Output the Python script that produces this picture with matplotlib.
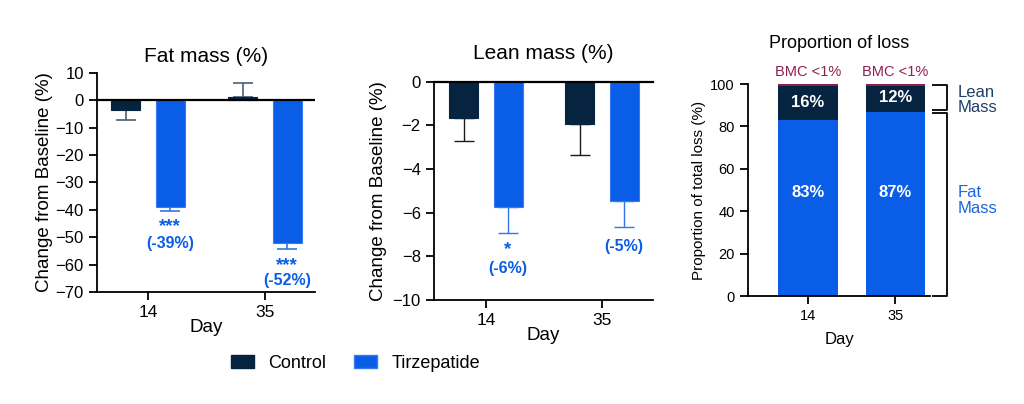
import matplotlib
matplotlib.use("Agg")
import matplotlib.pyplot as plt
from matplotlib.patches import Patch
import numpy as np

plt.rcParams['font.family'] = ['Liberation Sans', 'DejaVu Sans']

days = ["14", "35"]
groups = ["Control", "Tirzepatide"]

fat_control = [-3.7, 1.3]
fat_control_err = [3.4, 4.9]
fat_tirz = [-39.1, -52.0]
fat_tirz_err = [1.3, 2.4]

lean_control = [-1.68, -1.94]
lean_control_err = [1.04, 1.42]
lean_tirz = [-5.76, -5.47]
lean_tirz_err = [1.16, 1.19]

prop_fat = [83, 87]
prop_lean = [16, 12]
prop_bmc = [1, 1]

fat_stars = ["***", "***"]
fat_labels = ["(-39%)", "(-52%)"]
lean_stars = ["*", ""]
lean_labels = ["(-6%)", "(-5%)"]

NAVY = "#06233f"
BLUE = "#0a5de6"
NAVY_ERR = "#4a6075"
BLUE_ERR = "#3374e6"
BLUE_EDGE = "#3a7af0"
MAROON = "#8e1f4f"

W, H = 1024, 404
fig = plt.figure(figsize=(W / 100, H / 100), dpi=100)

def px_axes(l, r, t, b):
    return fig.add_axes([l / W, (H - b) / H, (r - l) / W, (b - t) / H])

x = np.arange(len(days))
off = 0.19
bw = 0.25
LW = 1.3

def style(ax, tsize):
    for s in ["top", "right"]:
        ax.spines[s].set_visible(False)
    for s in ["left", "bottom"]:
        ax.spines[s].set_linewidth(LW)
    ax.tick_params(width=LW, length=6, labelsize=tsize, direction="out")

# ---------- Panel 1: Fat mass ----------
ax1 = px_axes(97, 315, 72.7, 292)
ax1.bar(x - off, fat_control, bw, color=NAVY, edgecolor=NAVY, linewidth=0.8, zorder=2)
ax1.bar(x + off, fat_tirz, bw, color=BLUE, edgecolor=BLUE_EDGE, linewidth=0.8, zorder=2)
for i in range(len(days)):
    c = fat_control[i]
    ax1.errorbar(x[i] - off, c, yerr=[[fat_control_err[i] if c < 0 else 0], [fat_control_err[i] if c >= 0 else 0]],
                 fmt="none", ecolor=NAVY_ERR, elinewidth=1.2, capsize=7, capthick=1.2, zorder=1)
    ax1.errorbar(x[i] + off, fat_tirz[i], yerr=[[fat_tirz_err[i]], [0]],
                 fmt="none", ecolor=BLUE_ERR, elinewidth=1.2, capsize=7, capthick=1.2, zorder=1)
ax1.axhline(0, color="black", lw=1.6, zorder=3)
ax1.set_ylim(-70, 10)
ax1.set_yticks(np.arange(-70, 11, 10))
ax1.set_xlim(-0.436, 1.427)
ax1.set_xticks(x)
ax1.set_xticklabels(days)
style(ax1, 12)
ax1.tick_params(axis="x", labelsize=12.5)
ax1.set_ylabel("Change from Baseline (%)", fontsize=13.5, labelpad=2)
ax1.set_xlabel("Day", fontsize=13.5, labelpad=-1)
ax1.set_title("Fat mass (%)", fontsize=15, pad=8)
fat_star_y = [-46.0, -60.4]
fat_lab_y = [-52.4, -65.9]
for i in range(len(days)):
    ax1.text(x[i] + off, fat_star_y[i], fat_stars[i], color=BLUE, fontsize=13.5, fontweight="bold",
             ha="center", va="center")
    ax1.text(x[i] + off, fat_lab_y[i], fat_labels[i], color=BLUE, fontsize=11.5, fontweight="bold",
             ha="center", va="center")

# ---------- Panel 2: Lean mass ----------
ax2 = px_axes(434, 653, 81.7, 300)
ax2.bar(x - off, lean_control, bw, color=NAVY, edgecolor=NAVY, linewidth=0.8, zorder=2)
ax2.bar(x + off, lean_tirz, bw, color=BLUE, edgecolor=BLUE_EDGE, linewidth=0.8, zorder=2)
for i in range(len(days)):
    ax2.errorbar(x[i] - off, lean_control[i], yerr=[[lean_control_err[i]], [0]],
                 fmt="none", ecolor="#1a1a1a", elinewidth=1.0, capsize=7, capthick=1.0, zorder=1)
    ax2.errorbar(x[i] + off, lean_tirz[i], yerr=[[lean_tirz_err[i]], [0]],
                 fmt="none", ecolor=BLUE_ERR, elinewidth=1.0, capsize=7, capthick=1.0, zorder=1)
ax2.axhline(0, color="black", lw=1.6, zorder=3, clip_on=False)
ax2.set_ylim(-10, 0)
ax2.set_yticks(np.arange(-10, 1, 2))
ax2.set_xlim(-0.448, 1.44)
ax2.set_xticks(x)
ax2.set_xticklabels(days)
style(ax2, 12)
ax2.tick_params(axis="x", labelsize=12.5)
ax2.set_ylabel("Change from Baseline (%)", fontsize=13.5, labelpad=4)
ax2.set_xlabel("Day", fontsize=13.5, labelpad=-1)
ax2.set_title("Lean mass (%)", fontsize=15, pad=16)
lean_star_y = [-7.7, -7.56]
lean_lab_y = [-8.56, -7.56]
for i in range(len(days)):
    if lean_stars[i]:
        ax2.text(x[i] + off, lean_star_y[i], lean_stars[i], color=BLUE, fontsize=13.5, fontweight="bold",
                 ha="center", va="center")
    ax2.text(x[i] + off, lean_lab_y[i], lean_labels[i], color=BLUE, fontsize=11.5, fontweight="bold",
             ha="center", va="center")

# ---------- Panel 3: Proportion of loss ----------
ax3 = px_axes(748, 930, 84, 296)
bw3 = 0.68
ax3.bar(x, prop_fat, bw3, color=BLUE, linewidth=0, zorder=2)
ax3.bar(x, prop_lean, bw3, bottom=prop_fat, color=NAVY, linewidth=0, zorder=2)
bot2 = [a + b for a, b in zip(prop_fat, prop_lean)]
ax3.bar(x, prop_bmc, bw3, bottom=bot2, color=MAROON, linewidth=0, zorder=2)
ax3.set_ylim(0, 100)
ax3.set_yticks(np.arange(0, 101, 20))
ax3.set_xlim(-0.69, 1.40)
ax3.set_xticks(x)
ax3.set_xticklabels(days)
style(ax3, 10.5)
ax3.set_ylabel("Proportion of total loss (%)", fontsize=11, labelpad=3)
ax3.set_xlabel("Day", fontsize=12, labelpad=6)
ax3.set_title("Proportion of loss", fontsize=13, pad=26)
for i in range(len(days)):
    ax3.text(x[i], 49, f"{prop_fat[i]}%", color="white", fontsize=12,
             fontweight="bold", ha="center", va="center")
    ax3.text(x[i], prop_fat[i] + prop_lean[i] / 2 + 0.5, f"{prop_lean[i]}%", color="white", fontsize=12,
             fontweight="bold", ha="center", va="center")
    ax3.text(x[i], 105.6, "BMC <1%", color=MAROON, fontsize=10.5, ha="center", va="center", clip_on=False)

# brackets
bx0, bx1 = 1.425, 1.60
def seg(xs, ys):
    ax3.plot(xs, ys, color="black", lw=1.3, clip_on=False, solid_capstyle="butt")
seg([bx0, bx1, bx1, bx0], [99.4, 99.4, 87.7, 87.7])
seg([bx0, bx1, bx1, bx0], [86.4, 86.4, 0, 0])
ax3.text(1.72, 92.5, "Lean\nMass", color="#1f3f66", fontsize=12, ha="left", va="center",
         linespacing=1.05, clip_on=False)
ax3.text(1.72, 45, "Fat\nMass", color="#1a66e0", fontsize=12, ha="left", va="center",
         linespacing=1.05, clip_on=False)

# ---------- Legend ----------
handles = [Patch(facecolor=NAVY, edgecolor=NAVY, label=groups[0]),
           Patch(facecolor=BLUE, edgecolor=BLUE_EDGE, label=groups[1])]
fig.legend(handles=handles, loc="center", bbox_to_anchor=(0.347, 0.101), ncol=2, frameon=False,
           fontsize=13, handlelength=1.28, handleheight=0.67, columnspacing=1.55, handletextpad=0.78)

fig.savefig("out.png", dpi=100)
